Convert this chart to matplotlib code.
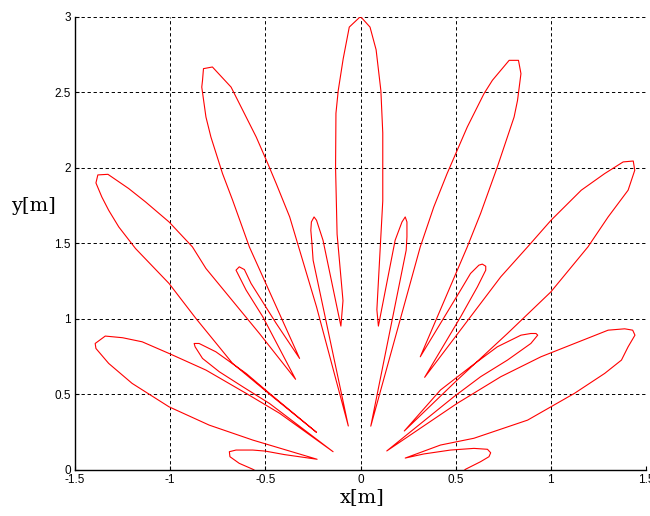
import numpy as np
import matplotlib.pyplot as plt

# Beam trace, read as (x, y) vertices in metres, swept from the left edge to the right edge.
# Each lobe runs from the null sample on one side, out to its peak and back to the next null.
lobe_l1 = [(-0.52, -0.03), (-0.566, 0.005), (-0.637, 0.044), (-0.686, 0.088), (-0.689, 0.121),
           (-0.654, 0.132), (-0.566, 0.132), (-0.50, 0.125), (-0.40, 0.102), (-0.228, 0.071)]
lobe_l2 = [(-0.390, 0.132), (-0.566, 0.198), (-0.795, 0.297), (-1.006, 0.418), (-1.200, 0.573),
           (-1.323, 0.705), (-1.390, 0.804), (-1.394, 0.837), (-1.341, 0.886), (-1.25, 0.875),
           (-1.147, 0.848), (-1.006, 0.771), (-0.812, 0.661), (-0.601, 0.507), (-0.425, 0.375),
           (-0.144, 0.121)]
lobe_l3 = [(-0.478, 0.440), (-0.619, 0.551), (-0.742, 0.650), (-0.830, 0.738), (-0.869, 0.815),
           (-0.874, 0.837), (-0.848, 0.837), (-0.760, 0.782), (-0.601, 0.639), (-0.478, 0.507),
           (-0.231, 0.249)]
lobe_l4 = [(-0.461, 0.484), (-0.672, 0.705), (-0.865, 1.003), (-1.006, 1.234), (-1.182, 1.465),
           (-1.270, 1.608), (-1.323, 1.718), (-1.359, 1.806), (-1.390, 1.899), (-1.380, 1.952),
           (-1.327, 1.956), (-1.218, 1.862), (-1.129, 1.773), (-1.006, 1.641), (-0.883, 1.476),
           (-0.812, 1.333), (-0.531, 0.903), (-0.341, 0.600)]
lobe_l5 = [(-0.513, 1.013), (-0.601, 1.190), (-0.654, 1.322), (-0.637, 1.344), (-0.610, 1.326),
           (-0.575, 1.234), (-0.443, 0.970), (-0.320, 0.738)]
lobe_l6 = [(-0.584, 1.476), (-0.672, 1.785), (-0.725, 1.961), (-0.786, 2.203), (-0.812, 2.335),
           (-0.834, 2.533), (-0.830, 2.578), (-0.825, 2.655), (-0.778, 2.666), (-0.680, 2.533),
           (-0.610, 2.358), (-0.548, 2.203), (-0.487, 2.027), (-0.443, 1.895), (-0.372, 1.674),
           (-0.231, 1.079), (-0.064, 0.291)]
lobe_l7 = [(-0.249, 1.388), (-0.255, 1.498), (-0.261, 1.586), (-0.258, 1.641), (-0.244, 1.674),
           (-0.231, 1.652), (-0.197, 1.520), (-0.103, 0.952)]
lobe_main = [(-0.092, 1.12), (-0.123, 1.56), (-0.131, 2.00), (-0.129, 2.36), (-0.117, 2.51),
             (-0.091, 2.72), (-0.059, 2.93), (0.0, 3.0), (0.050, 2.93), (0.082, 2.78),
             (0.107, 2.51), (0.117, 2.23), (0.117, 1.78), (0.103, 1.45), (0.086, 1.06),
             (0.094, 0.952)]
lobe_r7 = [(0.182, 1.520), (0.218, 1.641), (0.235, 1.674), (0.244, 1.641), (0.244, 1.542),
           (0.240, 1.454), (0.054, 0.290)]
lobe_r6 = [(0.314, 1.476), (0.385, 1.740), (0.455, 1.961), (0.561, 2.269), (0.649, 2.490),
           (0.693, 2.578), (0.781, 2.710), (0.830, 2.710), (0.843, 2.622), (0.825, 2.445),
           (0.807, 2.335), (0.719, 2.005), (0.631, 1.697), (0.561, 1.476), (0.314, 0.749)]
lobe_r5 = [(0.367, 0.859), (0.526, 1.190), (0.578, 1.300), (0.622, 1.355), (0.640, 1.362),
           (0.658, 1.348), (0.658, 1.322), (0.614, 1.211), (0.526, 1.013), (0.337, 0.613)]
lobe_r4 = [(0.737, 1.278), (0.878, 1.476), (1.001, 1.652), (1.160, 1.851), (1.283, 1.961),
           (1.380, 2.038), (1.433, 2.044), (1.441, 1.983), (1.406, 1.851), (1.301, 1.674),
           (1.195, 1.476), (1.000, 1.178), (0.772, 0.903), (0.508, 0.595), (0.230, 0.258)]
lobe_r3 = [(0.420, 0.529), (0.578, 0.683), (0.719, 0.815), (0.843, 0.892), (0.895, 0.903),
           (0.922, 0.903), (0.931, 0.892), (0.895, 0.837), (0.772, 0.727), (0.631, 0.617),
           (0.490, 0.484), (0.138, 0.126)]
lobe_r2 = [(0.508, 0.441), (0.737, 0.617), (0.948, 0.749), (1.124, 0.837), (1.301, 0.925),
           (1.388, 0.934), (1.430, 0.925), (1.442, 0.892), (1.406, 0.815), (1.371, 0.727),
           (1.283, 0.639), (1.124, 0.507), (0.878, 0.330), (0.596, 0.210), (0.420, 0.165),
           (0.235, 0.079)]
lobe_r1 = [(0.332, 0.106), (0.473, 0.132), (0.596, 0.143), (0.667, 0.137), (0.684, 0.114),
           (0.675, 0.088), (0.631, 0.055), (0.552, 0.005), (0.52, -0.03)]

x_ticks = [-1.5, -1, -0.5, 0, 0.5, 1, 1.5]
x_tick_labels = ['-1.5', '-1', '-0.5', '0', '0.5', '1', '1.5']
y_ticks = [0, 0.5, 1, 1.5, 2, 2.5, 3]
y_tick_labels = ['0', '0.5', '1', '1.5', '2', '2.5', '3']

trace = np.array(lobe_l1 + lobe_l2 + lobe_l3 + lobe_l4 + lobe_l5 + lobe_l6 + lobe_l7
                 + lobe_main + lobe_r7 + lobe_r6 + lobe_r5 + lobe_r4 + lobe_r3 + lobe_r2 + lobe_r1)

fig = plt.figure(figsize=(6.5, 5.16), dpi=100)
ax = fig.add_axes([75 / 650, 46 / 516, 571 / 650, 453.5 / 516])

ax.plot(trace[:, 0], trace[:, 1], color='#ff0000', lw=0.8)

ax.set_xlim(-1.5, 1.5)
ax.set_ylim(0, 3)
ax.set_xticks(x_ticks)
ax.set_xticklabels(x_tick_labels, family='Liberation Sans', fontsize=8.5)
ax.set_yticks(y_ticks)
ax.set_yticklabels(y_tick_labels, family='Liberation Sans', fontsize=8.5)
ax.tick_params(direction='in', length=3, width=0.8, pad=3)

ax.grid(True, color='black', lw=0.7, linestyle=(0, (3.4, 2.8)))
for side in ('top', 'right'):
    ax.spines[side].set_visible(False)
for side in ('left', 'bottom'):
    ax.spines[side].set_linewidth(1.0)

fig.text(362 / 650, 1 - 497 / 516, 'x[m]', family='DejaVu Serif', fontsize=14,
         ha='center', va='center')
fig.text(33 / 650, 1 - 206 / 516, 'y[m]', family='DejaVu Serif', fontsize=14,
         ha='center', va='center')

fig.savefig('out.png', dpi=100)
